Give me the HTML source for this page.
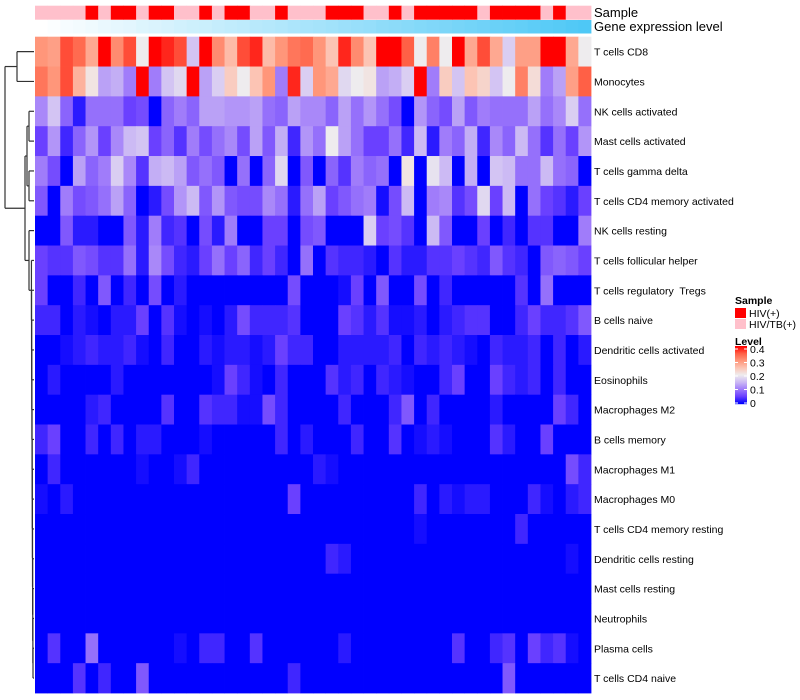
<!DOCTYPE html>
<html><head><meta charset="utf-8"><title>Immune cell heatmap</title>
<style>
html,body{margin:0;padding:0;background:#fff;}
svg{display:block;font-family:"Liberation Sans",Arial,sans-serif;}
#labels text{white-space:pre;}
</style></head>
<body>
<svg id="chart" width="800" height="700" viewBox="0 0 800 700" xmlns="http://www.w3.org/2000/svg">
<g id="dendro" stroke="#333" stroke-width="1.2" fill="none"></g>
<g id="cells"></g>
<g id="annot"></g>
<g id="labels" font-size="10.5" fill="#000"></g>
<text x="594" y="17" font-size="13">Sample</text>
<text x="594" y="31" font-size="13">Gene expression level</text>
<g>
  <text x="735" y="304" font-size="10.5" font-weight="bold">Sample</text>
  <rect x="735" y="308" width="11" height="10" fill="#ff0000"/>
  <text x="749" y="317" font-size="10.5">HIV(+)</text>
  <rect x="735" y="319" width="11" height="10" fill="#ffc0cb"/>
  <text x="749" y="328" font-size="10.5">HIV/TB(+)</text>
  <text x="735" y="345" font-size="10.5" font-weight="bold">Level</text>
  <g id="cbar"></g>
</g>
</svg>
<script>
const rowNames = ["T cells CD8","Monocytes","NK cells activated","Mast cells activated","T cells gamma delta","T cells CD4 memory activated","NK cells resting","T cells follicular helper","T cells regulatory  Tregs","B cells naive","Dendritic cells activated","Eosinophils","Macrophages M2","B cells memory","Macrophages M1","Macrophages M0","T cells CD4 memory resting","Dendritic cells resting","Mast cells resting","Neutrophils","Plasma cells","T cells CD4 naive"];
// 1 = HIV(+), 0 = HIV/TB(+)
const sampleGroup = [0,0,0,0,1,0,1,1,0,1,1,0,0,1,0,1,1,0,0,1,0,0,0,1,1,1,0,0,1,0,1,1,1,1,1,0,1,1,1,1,0,1,0,0];
const geneLevel = [0.00,0.02,0.05,0.07,0.09,0.12,0.14,0.16,0.19,0.21,0.23,0.26,0.28,0.30,0.33,0.35,0.37,0.40,0.42,0.44,0.47,0.49,0.51,0.53,0.56,0.58,0.60,0.63,0.65,0.67,0.70,0.72,0.74,0.77,0.79,0.81,0.84,0.86,0.88,0.91,0.93,0.95,0.98,1.00];
const r0 = [0.30,0.29,0.36,0.34,0.28,0.40,0.31,0.36,0.20,0.40,0.38,0.36,0.16,0.40,0.31,0.26,0.36,0.38,0.26,0.30,0.33,0.34,0.30,0.25,0.38,0.31,0.25,0.40,0.40,0.35,0.20,0.32,0.20,0.40,0.28,0.36,0.28,0.17,0.29,0.29,0.40,0.40,0.28,0.20];
const r1 = [0.33,0.30,0.36,0.27,0.21,0.13,0.14,0.10,0.40,0.10,0.16,0.18,0.40,0.13,0.17,0.24,0.20,0.25,0.30,0.10,0.38,0.17,0.30,0.28,0.18,0.20,0.21,0.13,0.14,0.17,0.40,0.10,0.24,0.16,0.25,0.23,0.16,0.20,0.32,0.22,0.10,0.13,0.29,0.35];
const r2 = [0.11,0.16,0.08,0.02,0.09,0.09,0.09,0.05,0.06,0.00,0.08,0.10,0.08,0.13,0.13,0.12,0.12,0.13,0.09,0.08,0.13,0.11,0.11,0.08,0.13,0.09,0.12,0.09,0.06,0.00,0.12,0.08,0.06,0.13,0.07,0.10,0.09,0.09,0.09,0.13,0.09,0.11,0.17,0.09];
const r3 = [0.05,0.12,0.03,0.08,0.12,0.05,0.11,0.15,0.16,0.05,0.08,0.04,0.10,0.06,0.09,0.11,0.06,0.13,0.07,0.14,0.03,0.12,0.09,0.20,0.13,0.09,0.05,0.05,0.09,0.03,0.15,0.02,0.10,0.08,0.14,0.03,0.11,0.08,0.15,0.09,0.04,0.09,0.05,0.12];
const r4 = [0.10,0.06,0.00,0.13,0.08,0.10,0.17,0.11,0.04,0.14,0.15,0.13,0.07,0.09,0.07,0.00,0.09,0.00,0.08,0.18,0.00,0.07,0.00,0.08,0.04,0.10,0.08,0.09,0.00,0.21,0.00,0.19,0.15,0.00,0.14,0.00,0.16,0.15,0.09,0.09,0.15,0.09,0.08,0.00];
const r5 = [0.07,0.00,0.10,0.06,0.07,0.09,0.13,0.08,0.00,0.02,0.06,0.12,0.15,0.07,0.12,0.07,0.06,0.06,0.11,0.09,0.02,0.09,0.13,0.05,0.07,0.09,0.10,0.01,0.06,0.15,0.00,0.10,0.11,0.04,0.06,0.18,0.05,0.15,0.00,0.09,0.05,0.04,0.02,0.05];
const r6 = [0.00,0.00,0.07,0.02,0.02,0.00,0.00,0.07,0.02,0.10,0.03,0.04,0.00,0.06,0.02,0.10,0.00,0.00,0.05,0.05,0.00,0.06,0.07,0.00,0.00,0.00,0.17,0.05,0.06,0.04,0.00,0.15,0.07,0.00,0.00,0.05,0.00,0.03,0.00,0.04,0.04,0.00,0.00,0.10];
const r7 = [0.05,0.04,0.04,0.07,0.06,0.04,0.04,0.09,0.02,0.11,0.06,0.03,0.02,0.05,0.09,0.05,0.08,0.03,0.05,0.03,0.00,0.09,0.00,0.04,0.03,0.03,0.02,0.00,0.04,0.02,0.02,0.04,0.04,0.05,0.04,0.03,0.07,0.04,0.03,0.00,0.07,0.08,0.07,0.05];
const r8 = [0.05,0.00,0.00,0.03,0.00,0.07,0.00,0.03,0.00,0.06,0.00,0.02,0.00,0.00,0.00,0.00,0.00,0.00,0.00,0.00,0.06,0.00,0.00,0.00,0.01,0.05,0.00,0.07,0.00,0.00,0.06,0.00,0.03,0.00,0.00,0.00,0.00,0.00,0.04,0.00,0.09,0.00,0.00,0.00];
const r9 = [0.03,0.03,0.00,0.02,0.01,0.00,0.02,0.02,0.05,0.00,0.04,0.01,0.00,0.01,0.00,0.02,0.06,0.03,0.03,0.03,0.04,0.00,0.00,0.00,0.05,0.04,0.02,0.04,0.01,0.01,0.02,0.00,0.02,0.03,0.04,0.04,0.00,0.00,0.03,0.05,0.03,0.03,0.04,0.07];
const r10 = [0.00,0.00,0.01,0.02,0.03,0.02,0.02,0.03,0.01,0.00,0.03,0.00,0.00,0.02,0.01,0.02,0.02,0.01,0.02,0.05,0.03,0.03,0.00,0.00,0.02,0.02,0.02,0.02,0.03,0.00,0.03,0.02,0.03,0.02,0.01,0.00,0.03,0.02,0.02,0.03,0.00,0.03,0.00,0.02];
const r11 = [0.00,0.02,0.00,0.00,0.00,0.00,0.02,0.00,0.00,0.00,0.00,0.00,0.00,0.00,0.01,0.05,0.03,0.01,0.00,0.03,0.00,0.00,0.00,0.04,0.02,0.03,0.00,0.03,0.02,0.01,0.00,0.00,0.03,0.05,0.00,0.00,0.05,0.03,0.02,0.03,0.00,0.03,0.00,0.00];
const r12 = [0.00,0.00,0.00,0.00,0.02,0.03,0.00,0.00,0.00,0.00,0.04,0.00,0.00,0.04,0.03,0.03,0.01,0.01,0.06,0.03,0.00,0.00,0.00,0.00,0.03,0.00,0.00,0.00,0.03,0.07,0.00,0.03,0.00,0.00,0.00,0.00,0.02,0.00,0.00,0.00,0.00,0.05,0.03,0.00];
const r13 = [0.03,0.05,0.00,0.00,0.03,0.00,0.03,0.00,0.02,0.02,0.00,0.00,0.00,0.01,0.00,0.00,0.00,0.00,0.00,0.03,0.00,0.02,0.00,0.00,0.00,0.03,0.00,0.00,0.04,0.00,0.01,0.02,0.01,0.00,0.00,0.00,0.04,0.02,0.00,0.00,0.05,0.00,0.00,0.00];
const r14 = [0.00,0.03,0.00,0.00,0.00,0.00,0.00,0.00,0.01,0.00,0.00,0.01,0.03,0.00,0.00,0.00,0.00,0.00,0.00,0.00,0.00,0.00,0.02,0.01,0.00,0.00,0.00,0.00,0.00,0.00,0.00,0.00,0.00,0.00,0.00,0.00,0.00,0.00,0.00,0.00,0.00,0.00,0.06,0.03];
const r15 = [0.01,0.00,0.02,0.00,0.00,0.00,0.00,0.00,0.00,0.00,0.00,0.00,0.00,0.00,0.00,0.00,0.00,0.00,0.00,0.00,0.05,0.00,0.00,0.00,0.00,0.00,0.00,0.00,0.00,0.00,0.03,0.00,0.02,0.01,0.02,0.02,0.00,0.00,0.00,0.03,0.01,0.00,0.02,0.03];
const r16 = [0.00,0.00,0.00,0.00,0.00,0.00,0.00,0.00,0.00,0.00,0.00,0.00,0.00,0.00,0.00,0.00,0.00,0.00,0.00,0.00,0.00,0.00,0.00,0.00,0.00,0.00,0.00,0.00,0.00,0.00,0.01,0.00,0.00,0.00,0.00,0.00,0.00,0.00,0.03,0.00,0.00,0.00,0.00,0.00];
const r17 = [0.00,0.00,0.00,0.00,0.00,0.00,0.00,0.00,0.00,0.00,0.00,0.00,0.00,0.00,0.00,0.00,0.00,0.00,0.00,0.00,0.00,0.00,0.00,0.03,0.02,0.00,0.00,0.00,0.00,0.00,0.00,0.00,0.00,0.00,0.00,0.00,0.00,0.00,0.00,0.00,0.00,0.00,0.01,0.00];
const r18 = [0,0,0,0,0,0,0,0,0,0,0,0,0,0,0,0,0,0,0,0,0,0,0,0,0,0,0,0,0,0,0,0,0,0,0,0,0,0,0,0,0,0,0,0];
const r19 = [0,0,0,0,0,0,0,0,0,0,0,0,0,0,0,0,0,0,0,0,0,0,0,0,0,0,0,0,0,0,0,0,0,0,0,0,0,0,0,0,0,0,0,0];
const r20 = [0.00,0.04,0.00,0.00,0.09,0.00,0.00,0.00,0.00,0.00,0.00,0.01,0.00,0.03,0.03,0.00,0.00,0.04,0.00,0.00,0.00,0.00,0.00,0.00,0.02,0.00,0.00,0.00,0.00,0.00,0.00,0.00,0.00,0.04,0.00,0.00,0.03,0.04,0.00,0.05,0.03,0.04,0.01,0.00];
const r21 = [0.00,0.00,0.00,0.04,0.00,0.03,0.00,0.00,0.07,0.00,0.00,0.00,0.00,0.00,0.00,0.00,0.00,0.00,0.00,0.00,0.03,0.00,0.00,0.00,0.00,0.00,0.00,0.00,0.00,0.00,0.00,0.00,0.00,0.00,0.00,0.00,0.00,0.07,0.00,0.00,0.00,0.00,0.00,0.00];
const levelValues = [r0,r1,r2,r3,r4,r5,r6,r7,r8,r9,r10,r11,r12,r13,r14,r15,r16,r17,r18,r19,r20,r21];
const levelTicks = [0,0.1,0.2,0.3,0.4];

const NS = "http://www.w3.org/2000/svg";
const X0 = 35, X1 = 591, Y0 = 36.7, Y1 = 693;
const nCol = sampleGroup.length, nRow = rowNames.length;
const colW = (X1 - X0) / nCol, rowH = (Y1 - Y0) / nRow;
function xOf(j){ return X0 + j * colW; }
function yOf(i){ return Y0 + i * rowH; }

const stops = [[0,[0,0,255]],[0.05,[106,64,255]],[0.1,[160,124,250]],[0.15,[204,186,244]],[0.2,[238,236,238]],[0.25,[252,196,180]],[0.3,[255,150,122]],[0.35,[255,96,70]],[0.4,[255,0,0]]];
function colorOf(v){
  v = Math.max(0, Math.min(0.4, v));
  for (let k = 1; k < stops.length; k++){
    if (v <= stops[k][0]){
      const a = stops[k-1], b = stops[k], t = (v - a[0]) / (b[0] - a[0]);
      const c = a[1].map((x, q) => Math.round(x + (b[1][q] - x) * t));
      return "rgb(" + c.join(",") + ")";
    }
  }
  return "rgb(255,0,0)";
}
function geneColor(t){
  const a = [255,255,255], b = [78,200,246];
  return "rgb(" + a.map((x,q)=>Math.round(x+(b[q]-x)*t)).join(",") + ")";
}
function mk(tag, attrs, parent){
  const el = document.createElementNS(NS, tag);
  for (const k in attrs) el.setAttribute(k, attrs[k]);
  parent.appendChild(el);
  return el;
}

const cellsG = document.getElementById("cells");
levelValues.forEach((row, i) => {
  row.forEach((v, j) => {
    const r = mk("rect", {x: xOf(j), y: yOf(i), width: colW + 0.4, height: rowH + 0.4, fill: colorOf(v)}, cellsG);
    
    
  });
});

const annotG = document.getElementById("annot");
sampleGroup.forEach((g, j) => {
  const r = mk("rect", {x: xOf(j), y: 5.7, width: colW + 0.4, height: 14, fill: g ? "#ff0000" : "#ffc0cb"}, annotG);
  
  
});
geneLevel.forEach((t, j) => {
  const r = mk("rect", {x: xOf(j), y: 20, width: colW + 0.4, height: 13.5, fill: geneColor(t)}, annotG);
  
  
});

const labelsG = document.getElementById("labels");
rowNames.forEach((n, i) => {
  const t = mk("text", {x: 594, y: yOf(i) + rowH/2 + 4}, labelsG);
  t.textContent = n;
  
  
});

// dendrogram (structure only)
const dg = document.getElementById("dendro");
function cy(i){ return yOf(i) + rowH/2; }
function seg(x1,y1,x2,y2){ mk("line",{x1:x1,y1:y1,x2:x2,y2:y2},dg); }
const LX = 34;
seg(17,cy(0),LX,cy(0)); seg(17,cy(1),LX,cy(1)); seg(17,cy(0),17,cy(1));
seg(29,cy(2),LX,cy(2)); seg(29,cy(3),LX,cy(3)); seg(29,cy(2),29,cy(3));
seg(29,cy(4),LX,cy(4)); seg(29,cy(5),LX,cy(5)); seg(29,cy(4),29,cy(5));
const a25 = (cy(2)+cy(3))/2, b25 = (cy(4)+cy(5))/2;
seg(27,a25,29,a25); seg(27,b25,29,b25); seg(27,a25,27,b25);
let prevY = cy(21), prevX = 33;
seg(33,cy(21),LX,cy(21));
for (let i = 20; i >= 7; i--){
  const x = 33 - (20 - i) * 0.12;
  seg(x, cy(i), LX, cy(i));
  seg(x, cy(i), x, prevY);
  prevY = (cy(i) + prevY) / 2; prevX = x;
}
seg(29,cy(6),LX,cy(6)); seg(29,prevY,prevX,prevY); seg(29,cy(6),29,prevY);
const c6 = (cy(6)+prevY)/2;
const c25 = (a25+b25)/2;
seg(25,c25,27,c25); seg(25,c6,29,c6); seg(25,c25,25,c6);
const botY = (c25+c6)/2, topY = (cy(0)+cy(1))/2;
seg(5,topY,17,topY); seg(5,botY,25,botY); seg(5,topY,5,botY);

// colorbar
const cb = document.getElementById("cbar");
const CB_Y0 = 346, CB_Y1 = 404, CB_X = 735, CB_W = 12;
const cbScale = v => CB_Y1 - (v / 0.4) * (CB_Y1 - CB_Y0 - 4) - 1;
for (let k = 0; k < 58; k++){
  const v = 0.4 * (1 - k / 57);
  mk("rect",{x:CB_X, y:CB_Y0 + k, width:CB_W, height:1.2, fill: colorOf(v)}, cb);
}
levelTicks.forEach(v => {
  const y = cbScale(v);
  mk("line",{x1:CB_X, y1:y, x2:CB_X+3, y2:y, stroke:"#fff", "stroke-width":1}, cb);
  mk("line",{x1:CB_X+CB_W-3, y1:y, x2:CB_X+CB_W, y2:y, stroke:"#fff", "stroke-width":1}, cb);
  const t = mk("text",{x:CB_X+15, y:y+4, "font-size":10.5}, cb);
  t.textContent = String(v);
  
  
});
</script>
</body></html>
